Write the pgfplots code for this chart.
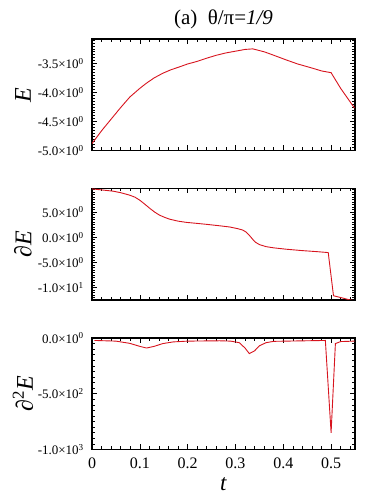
\documentclass[border=0pt]{standalone}
\usepackage{pgfplots}
\pgfplotsset{compat=1.18}
\usepackage{fontspec}
\setmainfont{Liberation Serif}
\definecolor{cred}{RGB}{215,20,30}
\pgfplotsset{
  panel/.style={
    scale only axis, width=263pt, height=111.5pt,
    anchor=south west,
    xmin=0, xmax=0.55,
    xtick={0,0.1,0.2,0.3,0.4,0.5,0.6},
    minor x tick num=4, minor y tick num=9,
    tick align=inside,
    major tick length=5pt, minor tick length=3pt,
    axis line style={line width=1.1pt},
    every tick/.style={black, line width=0.6pt},
    yticklabel style={font=\fontsize{13}{15}\selectfont, xshift=-4.7pt},
    xticklabel style={font=\fontsize{16}{18}\selectfont, yshift=-5pt},
    every axis y label/.style={at={(axis description cs:0,0.5)}, xshift=-69pt, rotate=90, anchor=center, font=\fontsize{24}{27}\selectfont},
    clip=true,
  },
  redline/.style={cred, line width=0.9pt, mark=none},
}
\begin{document}
\begin{tikzpicture}
\useasboundingbox (0,0) rectangle (374pt,497pt);
% top panel
\begin{axis}[panel, at={(92pt,346.5pt)},
  ymin=-5.0, ymax=-3.08,
  ytick={-5,-4.5,-4,-3.5,-3},
  yticklabels={-5.0×10\textsuperscript{0},-4.5×10\textsuperscript{0},-4.0×10\textsuperscript{0},-3.5×10\textsuperscript{0},},
  xticklabels={},
  ylabel={\textit{E}},
  title={(a)\ \ θ/π=\textit{1/9}},
  title style={at={(axis description cs:0.5,1)}, anchor=base, yshift=8.5pt, inner sep=0pt, font=\fontsize{21}{24}\selectfont},
]
\addplot[redline] coordinates {(0,-4.88) (0.02,-4.66) (0.044,-4.42) (0.06,-4.26) (0.079,-4.08) (0.1,-3.93) (0.114,-3.84) (0.13,-3.75) (0.148,-3.67) (0.165,-3.61) (0.183,-3.56) (0.2,-3.51) (0.218,-3.47) (0.24,-3.41) (0.26,-3.36) (0.28,-3.32) (0.3,-3.29) (0.32,-3.26) (0.336,-3.25) (0.36,-3.30) (0.38,-3.36) (0.406,-3.44) (0.43,-3.51) (0.46,-3.58) (0.48,-3.63) (0.5,-3.66) (0.52,-3.93) (0.549,-4.27)};
\end{axis}
% middle panel
\begin{axis}[panel, at={(92pt,197pt)},
  ymin=-12.45, ymax=9.68,
  ytick={-15,-10,-5,0,5,10},
  yticklabels={,-1.0×10\textsuperscript{1},-5.0×10\textsuperscript{0},0.0×10\textsuperscript{0},5.0×10\textsuperscript{0},},
  xticklabels={},
  ylabel={∂\textit{E}},
]
\addplot[redline] coordinates {(0,9.6) (0.02,9.4) (0.044,9.15) (0.06,8.85) (0.079,8.35) (0.09,7.95) (0.1,7.35) (0.11,6.6) (0.121,5.73) (0.131,5.0) (0.141,4.4) (0.152,3.95) (0.162,3.6) (0.18,3.2) (0.197,2.96) (0.22,2.75) (0.239,2.57) (0.265,2.3) (0.288,2.04) (0.305,1.7) (0.315,1.44) (0.322,1.05) (0.328,0.5) (0.336,-0.4) (0.342,-1.0) (0.35,-1.45) (0.364,-1.86) (0.38,-2.1) (0.406,-2.37) (0.44,-2.65) (0.47,-2.85) (0.494,-3.04) (0.505,-11.6) (0.538,-12.4) (0.55,-12.6)};
\end{axis}
% bottom panel
\begin{axis}[panel, at={(92pt,47.5pt)},
  ymin=-1000, ymax=0,
  ytick={-1000,-500,0},
  yticklabels={-1.0×10\textsuperscript{3},-5.0×10\textsuperscript{2},0.0×10\textsuperscript{0}},
  xticklabels={0,0.1,0.2,0.3,0.4,0.5,0.6},
  ylabel={∂\textsuperscript{2}\textit{E}},
  xlabel={\textit{t}},
  xlabel style={at={(axis description cs:0.5,0)}, anchor=north, yshift=-28pt, inner sep=0pt, font=\fontsize{23}{26}\selectfont},
]
\addplot[redline] coordinates {(0.005,-22) (0.05,-28) (0.079,-48) (0.1,-75) (0.114,-90) (0.13,-75) (0.148,-50) (0.17,-35) (0.2,-28) (0.267,-25) (0.29,-28) (0.308,-42) (0.32,-90) (0.329,-140) (0.34,-115) (0.35,-70) (0.364,-42) (0.38,-30) (0.488,-22) (0.5,-850) (0.509,-50) (0.52,-32) (0.549,-28)};
\end{axis}
\end{tikzpicture}
\end{document}
